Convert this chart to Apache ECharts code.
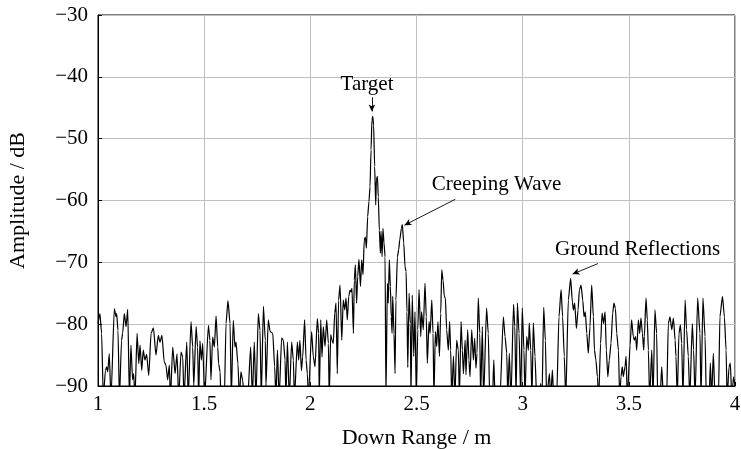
<!DOCTYPE html>
<html>
<head>
<meta charset="utf-8">
<script src="https://cdn.jsdelivr.net/npm/echarts@6/dist/echarts.min.js"></script>
<style>
html,body{margin:0;padding:0;background:#fff;}
#chart{width:741px;height:449px;}
</style>
</head>
<body>
<div id="chart"></div>
<script>
const rangeM = [
1.000,1.009,1.017,1.025,1.035,1.041,1.046,1.053,1.061,1.077,1.085,1.088,1.094,1.101,1.111,1.116,1.124,1.132,1.140,1.148,
1.155,1.163,1.168,1.174,1.184,1.192,1.198,1.206,1.213,1.221,1.229,1.239,1.250,1.261,1.273,1.284,1.292,1.301,1.312,1.320,
1.328,1.336,1.341,1.352,1.363,1.372,
1.380,1.391,1.399,1.405,1.418,1.425,1.438,1.446,1.451,1.462,1.469,1.474,1.480,1.487,1.493,1.502,1.520,1.527,1.532,1.540,
1.548,1.556,1.564,1.568,1.575,1.579,1.595,1.603,1.612,1.622,1.628,1.637,1.645,1.650,1.659,1.666,1.673,1.681,1.689,1.705,
1.719,1.727,1.736,1.744,1.755,1.763,1.769,1.779,1.788,1.791,1.802,1.810,1.815,1.823,1.832,1.838,1.845,1.853,1.865,1.873,
1.881,1.885,1.892,1.901,1.912,1.920,1.925,1.939,1.945,1.951,1.958,1.964,
1.973,1.980,1.986,1.991,2.006,2.014,2.022,2.033,2.039,2.042,2.049,2.055,2.061,2.069,2.077,2.085,2.089,2.096,2.102,2.108,
2.115,2.121,2.127,2.133,2.140,2.148,2.155,2.162,2.168,2.174,2.181,2.187,2.192,2.196,2.203,2.207,2.212,2.218,2.223,2.229,
2.236,2.242,2.248,2.254,2.259,2.264,2.270,2.276,2.281,2.286,2.290,2.294,2.298,2.303,2.308,2.311,2.316,2.320,2.325,2.330,
2.333,2.338,2.342,2.347,2.352,2.356,2.363,2.367,2.372,2.377,2.381,2.385,2.388,2.394,2.399,2.403,2.410,2.416,2.421,2.429,
2.433,2.440,2.446,2.451,2.455,2.459,2.465,2.471,2.474,
2.480,2.487,2.493,2.499,2.506,2.512,2.520,2.524,2.532,2.540,2.546,2.551,2.559,2.564,2.572,2.578,2.582,2.589,2.595,2.601,
2.608,2.614,2.619,2.625,2.631,2.636,2.642,2.650,2.656,2.661,2.666,2.674,2.681,2.689,2.697,2.702,2.710,2.716,2.721,2.729,
2.733,2.741,2.747,2.752,2.760,2.768,2.774,2.780,2.785,2.791,2.798,2.802,2.810,2.816,2.830,2.838,2.845,2.858,2.864,2.870,
2.893,2.909,2.917,2.925,2.930,2.937,2.945,2.957,2.963,2.969,
2.975,2.983,2.991,2.998,3.006,3.011,3.019,3.027,3.031,3.038,3.044,3.050,3.058,3.066,3.079,3.085,3.091,3.099,3.107,3.113,
3.126,3.132,3.140,3.146,3.160,3.171,3.181,3.188,3.196,3.203,3.215,3.226,3.234,3.239,3.245,3.253,3.261,3.267,3.275,3.283,
3.289,3.295,3.302,3.309,3.317,3.325,3.333,3.338,3.345,3.352,3.358,3.367,3.374,3.381,3.388,3.394,3.401,3.408,3.416,3.424,
3.430,
3.437,3.443,3.451,3.457,3.463,3.469,3.474,3.482,3.487,3.493,3.506,3.513,3.521,3.526,3.532,3.537,3.545,3.551,3.557,3.564,
3.570,3.573,3.581,3.587,3.592,3.598,3.608,3.614,3.623,3.631,3.636,3.647,3.655,3.663,3.678,3.686,3.694,3.702,3.710,3.718,
3.722,3.728,3.736,3.743,3.749,3.755,3.765,3.772,3.780,3.787,3.799,3.805,3.812,3.824,3.835,3.840,3.849,3.859,3.865,3.878,
3.884,3.890,3.898,3.906,3.922,3.929,3.941,3.950,3.958,3.963,3.972,3.978,3.985,3.993,4.000
];
// Amplitude (dB) at those ranges
const amplitudeDb = [
-79.9,-78.3,-81.5,-92,-87.5,-86.9,-87.7,-84.8,-92,-77.5,-78.8,-78.3,-81,-92,-82.6,-81.5,-78.3,-80.4,-77.6,-92,
-83.4,-89,-88,-92,-81.5,-86.4,-83.4,-87.5,-84.2,-85.8,-84.9,-88.3,-81.5,-80.6,-85,-81.8,-82.9,-81.8,-86.1,-86.6,
-89,-86.6,-92,-83.7,-88,-84.8,
-92,-84.5,-85.3,-92,-82.9,-92,-79.6,-83.7,-90,-80.4,-83.7,-92,-82.7,-85.8,-83.1,-92,-80.2,-82.6,-89,-82.1,
-83.7,-78.7,-83.7,-86.4,-87.7,-92,-92,-79.9,-76.2,-79.9,-92,-79.4,-83.7,-82.9,-86.4,-92,-87.7,-89,-92,-92,
-83.7,-92,-82.9,-92,-78.3,-81,-92,-77.1,-82.6,-90,-79.3,-81.1,-81.3,-81.5,-86.9,-92,-84.2,-92,-82.2,-82.6,
-85.8,-92,-82.9,-92,-82.9,-85.8,-92,-82.9,-85.8,-82.6,-87.5,-85.3,
-79.3,-85.8,-88,-92,-81.2,-85.3,-86.9,-79.1,-81.5,-92,-79.3,-85.3,-80.4,-83.6,-79.3,-83.1,-92,-81.7,-82.6,-83.1,
-78.2,-76.6,-88,-76.1,-73.7,-82.6,-76.1,-77.7,-75.8,-79.3,-75.5,-74.5,-74.8,-74.2,-81.5,-72.9,-70.4,-76.6,-72.3,-69.5,
-73.9,-69.6,-72.0,-66.4,-65.9,-67.7,-62.6,-60.2,-57.8,-51.8,-47.0,-46.4,-47.8,-54.5,-60.7,-56.7,-56.1,-59.4,-64.8,-68.5,
-65.0,-69.1,-64.5,-66.9,-69.1,-92,-73.4,-76.6,-69.6,-73.9,-78.8,-81.5,-75.5,-81.5,-88,-76.1,-69.1,-68.0,-66.4,-64.5,
-63.9,-66.9,-70.7,-71.5,-78,-87,-75,-79.9,-92,
-75.3,-85.2,-78,-92,-80.9,-74.4,-82,-78,-80.9,-73.4,-78.8,-86.3,-79.6,-81.5,-76.1,-81.5,-92,-81.2,-83.6,-79.6,
-85.2,-78.2,-71.2,-72.9,-75.5,-75.8,-80.9,-84.2,-79.6,-84.2,-92,-85.2,-92,-82.6,-84.2,-92,-79.6,-84.2,-88,-82.6,
-88.2,-80.9,-85.8,-88.5,-80.9,-85.8,-82.3,-87.1,-84.7,-75.8,-81.5,-92,-80.4,-92,-77.4,-81.5,-92,-92,-85.8,-92,
-92,-78.8,-82,-84.7,-92,-84.7,-92,-76.8,-80.4,-92,
-76.6,-81.5,-92,-77.4,-84.2,-92,-82,-84.2,-79.8,-84.2,-92,-79.8,-85.2,-92,-92,-89.6,-92,-77.3,-82.6,-92,
-88,-92,-87.4,-92,-92,-78.8,-74.4,-78.8,-85.2,-92,-76.1,-72.6,-76.4,-77.7,-76.6,-80.7,-77.7,-74.5,-73.7,-76.1,
-78.8,-78,-81.5,-84.7,-80.4,-73.7,-78.8,-84.2,-85.8,-88.5,-92,-83.1,-78.2,-79.9,-78,-84.2,-88.5,-85.8,-83.1,-78.2,
-76.6,
-77.5,-81.5,-84.2,-92,-88.5,-86.9,-88.5,-86.9,-85.2,-92,-83.4,-79.3,-82,-82.6,-82,-84.2,-79.3,-81.5,-79,-81.5,
-84.2,-82,-75.8,-79.3,-84.2,-92,-84.2,-92,-77.7,-81.5,-92,-92,-86.9,-92,-92,-79.9,-78.8,-80.9,-79,-82.6,
-85.2,-92,-81.5,-80.1,-83.1,-92,-76.1,-80.9,-85.2,-92,-79.9,-84.2,-92,-75.8,-81.5,-92,-75.8,-82,-92,-92,
-86.3,-92,-84.7,-92,-92,-78.8,-75.5,-78.8,-84.2,-92,-86.9,-86.3,-92,-88.5,-90
];
const xTicks = [1, 1.5, 2, 2.5, 3, 3.5, 4];
const yTicks = [-90, -80, -70, -60, -50, -40, -30];
const annotations = ['Target', 'Creeping Wave', 'Ground Reflections'];

const FONT = 'Liberation Serif';
const signal = rangeM.map((x, i) => [x, amplitudeDb[i]]);
const minus = v => String(v).replace('-', '\u2212');

const chart = echarts.init(document.getElementById('chart'));
chart.setOption({
  animation: false,
  backgroundColor: '#fff',
  grid: { left: 98, right: 6, top: 15, bottom: 63, containLabel: false, outerBoundsMode: 'none',
          show: true, borderColor: '#000', borderWidth: 1, backgroundColor: 'transparent' },
  xAxis: {
    type: 'value', min: xTicks[0], max: xTicks[xTicks.length - 1], interval: 0.5,
    name: 'Down Range / m', nameLocation: 'middle', nameGap: 41,
    nameTextStyle: { fontFamily: FONT, fontSize: 22, color: '#000' },
    axisLine: { show: true, lineStyle: { color: '#000', width: 1 } },
    axisTick: { show: true, inside: true, length: 4, lineStyle: { color: '#000' } },
    axisLabel: { fontFamily: FONT, fontSize: 21, color: '#000', margin: 8 },
    splitLine: { show: true, lineStyle: { color: '#c0c0c0', width: 1 } }
  },
  yAxis: {
    type: 'value', min: yTicks[0], max: yTicks[yTicks.length - 1], interval: 10,
    name: 'Amplitude / dB', nameLocation: 'middle', nameGap: 69, nameRotate: 90,
    nameTextStyle: { fontFamily: FONT, fontSize: 22, color: '#000' },
    axisLine: { show: true, lineStyle: { color: '#000', width: 1 } },
    axisTick: { show: true, inside: true, length: 4, lineStyle: { color: '#000' } },
    axisLabel: { fontFamily: FONT, fontSize: 21, color: '#000', margin: 10, formatter: minus },
    splitLine: { show: true, lineStyle: { color: '#c0c0c0', width: 1 } }
  },
  series: [{
    type: 'line', data: signal, showSymbol: false, symbol: 'none', clip: true,
    smooth: 0.2, smoothMonotone: 'x',
    lineStyle: { color: '#000', width: 1.2 },
    markPoint: {
      symbol: 'circle', symbolSize: 0, silent: true,
      label: { show: true, position: 'inside', fontFamily: FONT, fontSize: 21, color: '#000', formatter: p => p.name },
      data: [
        { name: annotations[0], coord: [2.267, -41.3] },
        { name: annotations[1], coord: [2.877, -57.4] },
        { name: annotations[2], coord: [3.541, -67.9] }
      ]
    },
    markLine: {
      silent: true, symbol: ['none', 'arrow'], symbolSize: [5, 7],
      label: { show: false },
      lineStyle: { color: '#000', width: 0.9, type: 'solid' },
      data: [
        [{ coord: [2.290, -43.3] }, { coord: [2.290, -45.6] }],
        [{ coord: [2.683, -59.8] }, { coord: [2.443, -64.0] }],
        [{ coord: [3.355, -70.2] }, { coord: [3.235, -71.9] }]
      ]
    }
  }]
});
</script>
</body>
</html>
